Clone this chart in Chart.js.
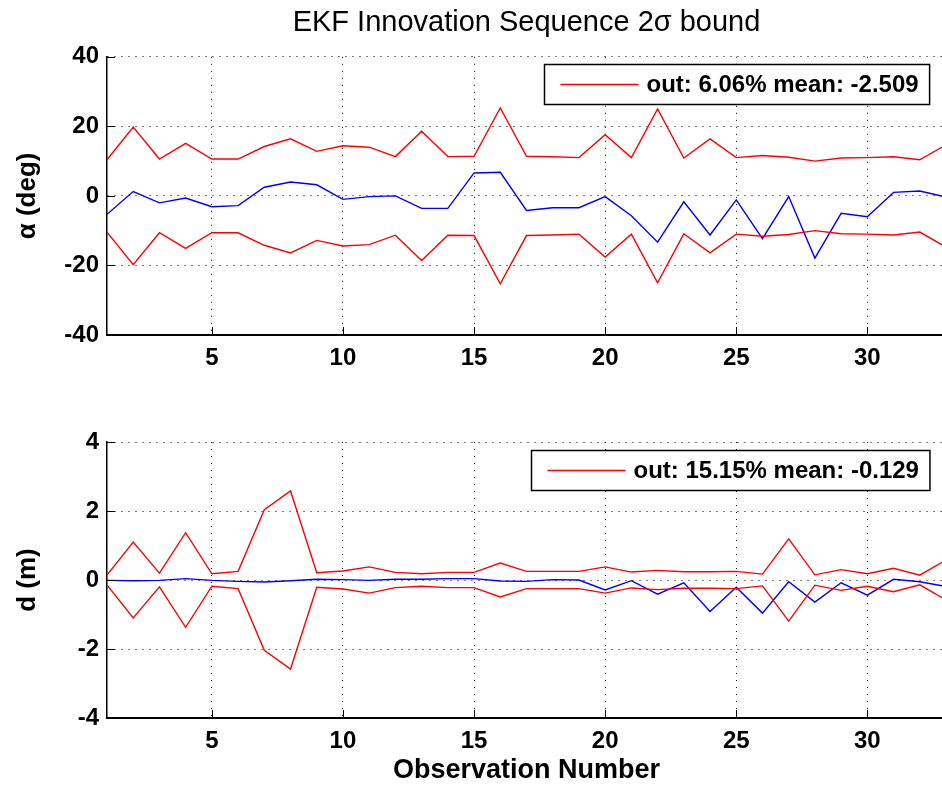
<!DOCTYPE html>
<html>
<head>
<meta charset="utf-8">
<title>EKF Innovation Sequence 2σ bound</title>
<script src="https://cdn.jsdelivr.net/npm/chart.js@4.4.1/dist/chart.umd.min.js"></script>
<style>
  html, body { margin: 0; padding: 0; background: #fff; overflow: hidden; }
  #wrap { position: relative; width: 942px; height: 787px; overflow: hidden; }
  canvas { position: absolute; left: 0; }
  #alphaChart { top: 0; }
  #distChart { top: 380px; }
</style>
</head>
<body>
<div id="wrap">
  <canvas id="alphaChart" width="946" height="380"></canvas>
  <canvas id="distChart" width="946" height="407"></canvas>
</div>
<script>
// ===== DATA =====
const obsNumbers = [1, 2, 3, 4, 5, 6, 7, 8, 9, 10, 11, 12, 13, 14, 15, 16, 17,
  18, 19, 20, 21, 22, 23, 24, 25, 26, 27, 28, 29, 30, 31, 32, 33];
const xTicks = [5, 10, 15, 20, 25, 30];

// bearing innovation (deg) and its +/- 2 sigma bound
const alphaLegend = 'out: 6.06% mean: -2.509';
const alphaUpper = [10.4, 19.8, 10.6, 15.1, 10.6, 10.6, 14.2, 16.4, 12.8, 14.4, 14.0,
  11.3, 18.6, 11.3, 11.4, 25.3, 11.4, 11.25, 11.0, 17.6, 11.0, 25.0, 10.9, 16.4,
  11.0, 11.6, 11.1, 10.0, 10.9, 11.0, 11.25, 10.4, 14.7];
const alphaLower = [-10.4, -19.8, -10.6, -15.1, -10.6, -10.6, -14.2, -16.4, -12.8, -14.4, -14.0,
  -11.3, -18.6, -11.3, -11.4, -25.3, -11.4, -11.25, -11.0, -17.6, -11.0, -25.0, -10.9, -16.4,
  -11.0, -11.6, -11.1, -10.0, -10.9, -11.0, -11.25, -10.4, -14.7];
const alphaInnov = [-5.3, 1.25, -2.0, -0.6, -3.1, -2.8, 2.5, 4.0, 3.2, -1.0, -0.2,
  0.0, -3.6, -3.6, 6.6, 6.8, -4.2, -3.4, -3.4, -0.2, -5.7, -13.3, -1.7, -11.25,
  -1.15, -12.3, -0.2, -17.9, -5.0, -6.0, 1.0, 1.4, -0.3];
const alphaTicks = [-40, -20, 0, 20, 40];

// range innovation (m) and its +/- 2 sigma bound
const distLegend = 'out: 15.15% mean: -0.129';
const distUpper = [0.14, 1.10, 0.20, 1.37, 0.18, 0.25, 2.04, 2.58, 0.21, 0.26, 0.38,
  0.22, 0.18, 0.22, 0.22, 0.49, 0.25, 0.25, 0.25, 0.38, 0.23, 0.28, 0.24, 0.24,
  0.25, 0.17, 1.19, 0.15, 0.30, 0.18, 0.34, 0.14, 0.58];
const distLower = [-0.14, -1.10, -0.20, -1.37, -0.18, -0.25, -2.04, -2.58, -0.21, -0.26, -0.38,
  -0.22, -0.18, -0.22, -0.22, -0.49, -0.25, -0.25, -0.25, -0.38, -0.23, -0.28, -0.24, -0.24,
  -0.25, -0.17, -1.19, -0.15, -0.30, -0.18, -0.34, -0.14, -0.58];
const distInnov = [-0.01, -0.02, -0.01, 0.04, -0.01, -0.04, -0.06, -0.02, 0.02, 0.01, -0.01,
  0.02, 0.02, 0.04, 0.04, -0.03, -0.04, 0.01, 0.0, -0.29, -0.02, -0.41, -0.08, -0.91,
  -0.21, -0.96, -0.05, -0.64, -0.08, -0.44, 0.02, -0.05, -0.19];
const distTicks = [-4, -2, 0, 2, 4];

const FONT = '"Liberation Sans", Arial, Helvetica, sans-serif';

// small inward tick marks, like matlab axes
const innerTicks = {
  id: 'innerTicks',
  afterDatasetsDraw(chart) {
    const { ctx, chartArea: a, scales: { x, y } } = chart;
    ctx.save();
    ctx.strokeStyle = '#000';
    ctx.lineWidth = 1;
    ctx.beginPath();
    x.ticks.forEach(t => {
      const px = Math.round(x.getPixelForValue(t.value)) + 0.5;
      ctx.moveTo(px, a.bottom);
      ctx.lineTo(px, a.bottom - 8);
    });
    y.ticks.forEach(t => {
      const py = Math.round(y.getPixelForValue(t.value)) + 0.5;
      ctx.moveTo(a.left, py);
      ctx.lineTo(a.left + 8, py);
    });
    ctx.stroke();
    ctx.restore();
  }
};

// boxed legend in the top right corner, only the bound entry
const boxLegend = {
  id: 'boxLegend',
  afterDraw(chart, args, opts) {
    const { ctx, chartArea: a } = chart;
    const ds = chart.data.datasets[0];
    ctx.save();
    ctx.font = 'bold 24px ' + FONT;
    const tw = ctx.measureText(ds.label).width;
    const w = 16 + 78 + 8 + tw + 11;
    const h = 40;
    const x0 = Math.round(a.right - 17 - w) + 0.5;
    const y0 = Math.round(a.top + opts.top) + 0.5;
    ctx.fillStyle = '#fff';
    ctx.fillRect(x0, y0, w, h);
    ctx.strokeStyle = '#000';
    ctx.lineWidth = 1.5;
    ctx.strokeRect(x0, y0, w, h);
    ctx.strokeStyle = ds.borderColor;
    ctx.lineWidth = 1.3;
    ctx.beginPath();
    ctx.moveTo(x0 + 16, y0 + h / 2);
    ctx.lineTo(x0 + 94, y0 + h / 2);
    ctx.stroke();
    ctx.fillStyle = '#000';
    ctx.textBaseline = 'middle';
    ctx.fillText(ds.label, x0 + 102, y0 + h / 2 + 1);
    ctx.restore();
  }
};

function line(label, data, color) {
  return {
    label: label,
    data: data,
    borderColor: color,
    borderWidth: 1.4,
    pointRadius: 0,
    tension: 0,
    fill: false
  };
}

function makeChart(id, cfg) {
  return new Chart(document.getElementById(id), {
    type: 'line',
    data: {
      labels: obsNumbers,
      datasets: [
        line(cfg.legend, cfg.upper, '#ff0000'),
        line('lower bound', cfg.lower, '#ff0000'),
        line('innovation', cfg.innov, '#0000ff')
      ]
    },
    options: {
      responsive: false,
      animation: false,
      layout: { padding: { top: cfg.padTop, left: 0, right: 0, bottom: 0 } },
      plugins: {
        legend: { display: false },
        tooltip: { enabled: false },
        title: cfg.title ? {
          display: true,
          text: cfg.title,
          fullSize: false,
          color: '#000',
          font: { family: FONT, size: 29, weight: 'normal' },
          padding: { top: 6, bottom: 16 }
        } : { display: false },
        boxLegend: { top: 7.5 }
      },
      scales: {
        x: {
          type: 'linear',
          min: 1,
          max: 33,
          afterBuildTicks: s => { s.ticks = xTicks.map(v => ({ value: v })); },
          afterFit: s => { s.height = cfg.xHeight; },
          ticks: {
            color: '#000',
            padding: 9,
            maxRotation: 0,
            font: { family: FONT, size: 24, weight: 'bold' }
          },
          grid: { color: '#000', lineWidth: 1, drawTicks: false },
          border: { display: true, color: '#000', width: 2, dash: [1, 6] },
          title: cfg.xTitle ? {
            display: true,
            text: cfg.xTitle,
            color: '#000',
            font: { family: FONT, size: 27, weight: 'bold' },
            padding: { top: 0, bottom: 0 }
          } : { display: false }
        },
        y: {
          min: cfg.ticks[0],
          max: cfg.ticks[cfg.ticks.length - 1],
          afterBuildTicks: s => { s.ticks = cfg.ticks.map(v => ({ value: v })); },
          afterFit: s => { s.width = 107; },
          ticks: {
            color: '#000',
            padding: 8,
            font: { family: FONT, size: 24, weight: 'bold' }
          },
          grid: { color: '#000', lineWidth: 1, drawTicks: false },
          border: { display: true, color: '#000', width: 1.5, dash: [1, 6] },
          title: {
            display: true,
            text: cfg.yTitle,
            color: '#000',
            font: { family: FONT, size: 26, weight: 'bold' },
            padding: { top: 12, bottom: 0 }
          }
        }
      }
    },
    plugins: [innerTicks, boxLegend]
  });
}

makeChart('alphaChart', {
  title: 'EKF Innovation Sequence 2σ bound',
  legend: alphaLegend,
  upper: alphaUpper,
  lower: alphaLower,
  innov: alphaInnov,
  ticks: alphaTicks,
  yTitle: 'α (deg)',
  padTop: 0,
  xHeight: 45
});

makeChart('distChart', {
  legend: distLegend,
  upper: distUpper,
  lower: distLower,
  innov: distInnov,
  ticks: distTicks,
  yTitle: 'd (m)',
  xTitle: 'Observation Number',
  padTop: 62,
  xHeight: 69
});
</script>
</body>
</html>
